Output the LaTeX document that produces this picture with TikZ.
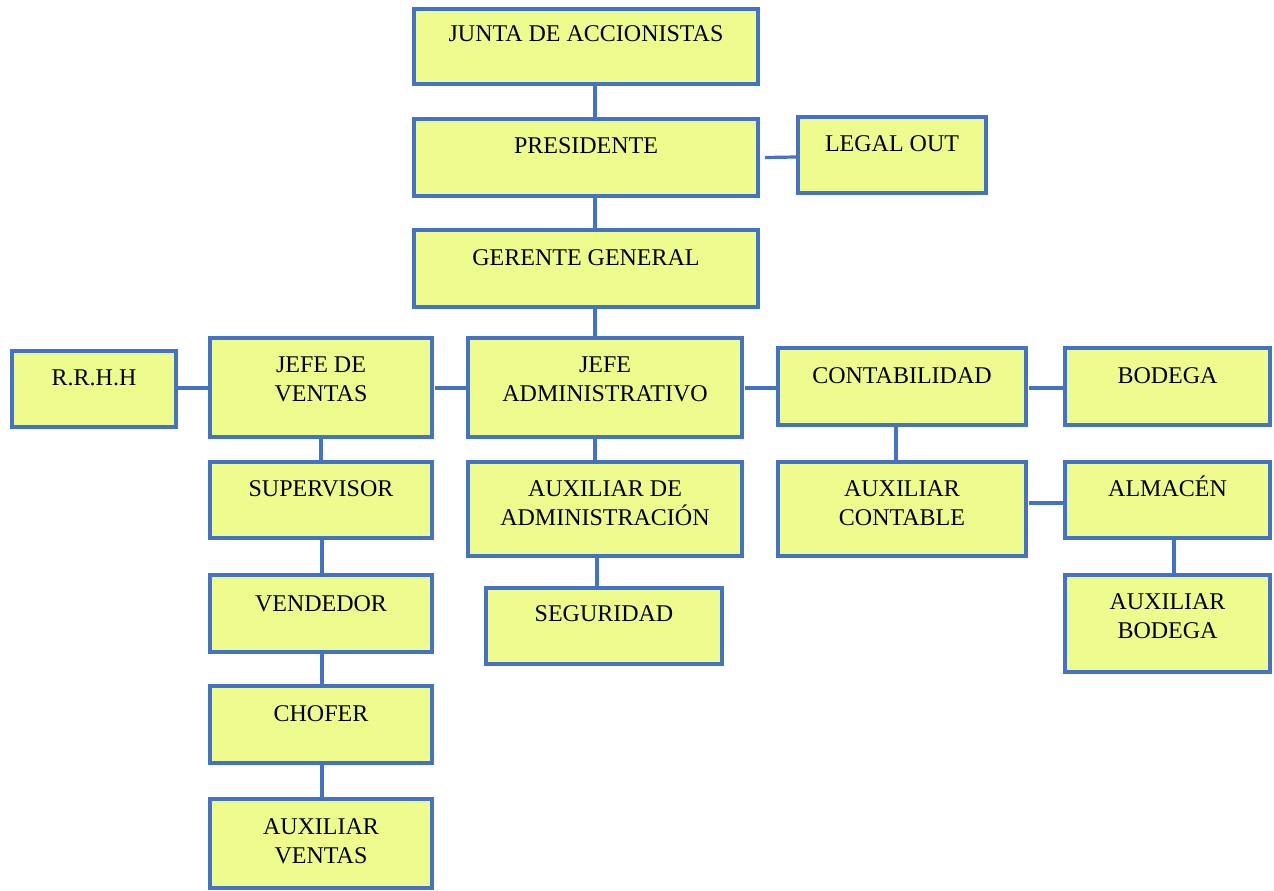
\documentclass[tikz,border=0pt]{standalone}
\usepackage{fontspec}
\setmainfont{Liberation Serif}
\usetikzlibrary{calc}
\definecolor{orgblue}{RGB}{68,114,196}
\definecolor{orgfill}{RGB}{237,252,140}
\tikzset{
  orgrect/.style={draw=orgblue, fill=orgfill, line width=3.2pt, inner sep=0pt, outer sep=0pt, rectangle},
  orgtext/.style={anchor=base, align=center, inner sep=0pt, font=\fontsize{24}{28.5}\selectfont},
  link/.style={draw=orgblue, line width=3.2pt}
}
% \orgbox{name}{left}{top}{right}{bottom}{baseline of last line below top}{text}
\newcommand\orgbox[7]{%
  \node[orgrect, minimum width={(#4-#2)*1pt}, minimum height={(#5-#3)*1pt}]
    (#1) at ({(#2+#4)/2},{(#3+#5)/2}) {};
  \node[orgtext] (#1-t) at ($(#1.north)+(0,#6)$) {#7};
}
\begin{document}
\begin{tikzpicture}[x=1pt,y=-1pt]
\useasboundingbox (0,0) rectangle (1274,891);

\orgbox{junta}{414}{9}{758}{84}{33}{JUNTA DE ACCIONISTAS}
\orgbox{pres}{414}{119}{758}{196}{34}{PRESIDENTE}
\orgbox{legal}{798}{117}{986}{193}{34}{LEGAL OUT}
\orgbox{gerente}{414}{230}{758}{307}{35}{GERENTE GENERAL}
\orgbox{rrhh}{12}{351}{176}{427}{34}{R.R.H.H}
\orgbox{jventas}{210}{338}{432}{437}{63}{JEFE DE\\VENTAS}
\orgbox{jadmin}{468}{338}{742}{437}{63}{JEFE\\ADMINISTRATIVO}
\orgbox{conta}{778}{348}{1026}{425}{35}{CONTABILIDAD}
\orgbox{bodega}{1065}{348}{1270}{425}{35}{BODEGA}
\orgbox{super}{210}{462}{432}{538}{34}{SUPERVISOR}
\orgbox{auxadm}{468}{462}{742}{556}{63}{AUXILIAR DE\\ADMINISTRACIÓN}
\orgbox{auxcont}{778}{462}{1026}{556}{63}{AUXILIAR\\CONTABLE}
\orgbox{almacen}{1065}{462}{1270}{538}{34}{ALMACÉN}
\orgbox{vendedor}{210}{575}{432}{652}{36}{VENDEDOR}
\orgbox{seguridad}{486}{588}{722}{664}{33}{SEGURIDAD}
\orgbox{auxbod}{1065}{575}{1270}{672}{63}{AUXILIAR\\BODEGA}
\orgbox{chofer}{210}{686}{432}{763}{35}{CHOFER}
\orgbox{auxvent}{210}{799}{432}{888}{64}{AUXILIAR\\VENTAS}

% vertical links
\draw[link] ($(junta.south)+(9,1.6)$) -- ($(pres.north)+(9,-1.6)$);
\draw[link] ($(pres.south)+(9,1.6)$) -- ($(gerente.north)+(9,-1.6)$);
\draw[link] ($(gerente.south)+(9,1.6)$) -- ($(jadmin.north)+(-10,-1.6)$);
\draw[link] ($(jventas.south)+(0,1.6)$) -- ($(super.north)+(0,-1.6)$);
\draw[link] ($(jadmin.south)+(-10,1.6)$) -- ($(auxadm.north)+(-10,-1.6)$);
\draw[link] ($(conta.south)+(-6,1.6)$) -- ($(auxcont.north)+(-6,-1.6)$);
\draw[link] ($(super.south)+(1,1.6)$) -- ($(vendedor.north)+(1,-1.6)$);
\draw[link] ($(auxadm.south)+(-8,1.6)$) -- ($(seguridad.north)+(-7,-1.6)$);
\draw[link] ($(almacen.south)+(6.5,1.6)$) -- ($(auxbod.north)+(6.5,-1.6)$);
\draw[link] ($(vendedor.south)+(1,1.6)$) -- ($(chofer.north)+(1,-1.6)$);
\draw[link] ($(chofer.south)+(1,1.6)$) -- ($(auxvent.north)+(1,-1.6)$);

% horizontal links
\draw[link] ($(pres.east)+(7,0)$) -- ($(legal.west)+(-1.6,2)$);
\draw[link] ($(rrhh.east)+(1.6,-1)$) -- ($(jventas.west)+(-1.6,0.5)$);
\draw[link] ($(jventas.east)+(3,0.5)$) -- ($(jadmin.west)+(-1.6,0.5)$);
\draw[link] ($(jadmin.east)+(3,0.5)$) -- ($(conta.west)+(-1.6,1.5)$);
\draw[link] ($(conta.east)+(3,1.5)$) -- ($(bodega.west)+(-1.6,1.5)$);
\draw[link] ($(auxcont.east)+(3,-6)$) -- ($(almacen.west)+(-1.6,3)$);
\end{tikzpicture}
\end{document}
